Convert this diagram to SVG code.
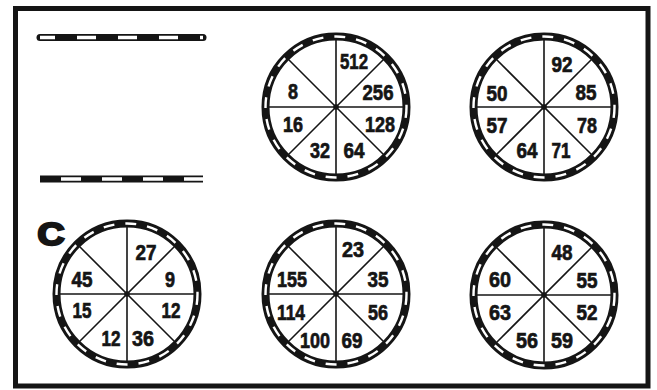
<svg xmlns="http://www.w3.org/2000/svg" xmlns:xlink="http://www.w3.org/1999/xlink" width="657" height="390" viewBox="0 0 657 390">
<style>
.n{font-family:"Liberation Sans",Arial,sans-serif;font-weight:bold;font-size:22.5px;fill:#151515;stroke:#151515;stroke-width:0.7;text-anchor:middle}
.sp{stroke:#151515;stroke-width:1.6;fill:none}
</style>
<defs>
<g id="wheel">
<circle r="70.5" fill="#fff" stroke="#151515" stroke-width="8"/>
<circle r="70.5" fill="none" stroke="#fff" stroke-width="2.4" stroke-dasharray="11 11"/>
<line class="sp" x1="0" y1="-67" x2="0" y2="67"/>
<line class="sp" x1="-67" y1="0" x2="67" y2="0"/>
<line class="sp" x1="-47.5" y1="-47.5" x2="47.5" y2="47.5"/>
<line class="sp" x1="-47.5" y1="47.5" x2="47.5" y2="-47.5"/>
<circle r="2.8" fill="#151515"/>
</g>
</defs>
<rect width="657" height="390" fill="#fff"/>
<rect x="15.5" y="8.5" width="632.5" height="377.5" fill="none" stroke="#151515" stroke-width="5"/>
<g id="bar-top">
<line x1="40" y1="37.5" x2="203" y2="37.5" stroke="#151515" stroke-width="7" stroke-linecap="round"/>
<line x1="40" y1="37.5" x2="203" y2="37.5" stroke="#fff" stroke-width="3.4" stroke-dasharray="19 22" stroke-dashoffset="4"/>
</g>
<g id="bar-bottom">
<line x1="40" y1="179" x2="203" y2="179" stroke="#151515" stroke-width="7"/>
<line x1="40" y1="179" x2="203" y2="179" stroke="#fff" stroke-width="3.4" stroke-dasharray="20 21" stroke-dashoffset="20"/>
</g>
<g id="wheel1">
<use xlink:href="#wheel" href="#wheel" x="336" y="107"/>
<text class="n" x="354" y="69" textLength="28" lengthAdjust="spacingAndGlyphs">512</text>
<text class="n" x="378" y="100" textLength="31" lengthAdjust="spacingAndGlyphs">256</text>
<text class="n" x="293" y="99" textLength="10" lengthAdjust="spacingAndGlyphs">8</text>
<text class="n" x="293" y="132" textLength="20" lengthAdjust="spacingAndGlyphs">16</text>
<text class="n" x="380" y="132" textLength="30" lengthAdjust="spacingAndGlyphs">128</text>
<text class="n" x="320" y="158" textLength="20" lengthAdjust="spacingAndGlyphs">32</text>
<text class="n" x="354" y="158" textLength="21" lengthAdjust="spacingAndGlyphs">64</text>
</g>
<g id="wheel2">
<use xlink:href="#wheel" href="#wheel" x="544" y="107"/>
<text class="n" x="562" y="72" textLength="21" lengthAdjust="spacingAndGlyphs">92</text>
<text class="n" x="586" y="100" textLength="21" lengthAdjust="spacingAndGlyphs">85</text>
<text class="n" x="497" y="101" textLength="21" lengthAdjust="spacingAndGlyphs">50</text>
<text class="n" x="497" y="133" textLength="21" lengthAdjust="spacingAndGlyphs">57</text>
<text class="n" x="587" y="133" textLength="20" lengthAdjust="spacingAndGlyphs">78</text>
<text class="n" x="527" y="158" textLength="21" lengthAdjust="spacingAndGlyphs">64</text>
<text class="n" x="561" y="158" textLength="19" lengthAdjust="spacingAndGlyphs">71</text>
</g>
<g id="label-c">
<text x="51" y="245" font-family="Liberation Sans,Arial,sans-serif" font-weight="bold" font-size="32" fill="#151515" stroke="#151515" stroke-width="2.4" text-anchor="middle" textLength="27" lengthAdjust="spacingAndGlyphs">C</text>
</g>
<g id="wheel3">
<use xlink:href="#wheel" href="#wheel" x="127" y="294"/>
<text class="n" x="146" y="260" textLength="21" lengthAdjust="spacingAndGlyphs">27</text>
<text class="n" x="170" y="287" textLength="10" lengthAdjust="spacingAndGlyphs">9</text>
<text class="n" x="82" y="287" textLength="21" lengthAdjust="spacingAndGlyphs">45</text>
<text class="n" x="82" y="318" textLength="19" lengthAdjust="spacingAndGlyphs">15</text>
<text class="n" x="171" y="318" textLength="19" lengthAdjust="spacingAndGlyphs">12</text>
<text class="n" x="111" y="346" textLength="19" lengthAdjust="spacingAndGlyphs">12</text>
<text class="n" x="143" y="346" textLength="22" lengthAdjust="spacingAndGlyphs">36</text>
</g>
<g id="wheel4">
<use xlink:href="#wheel" href="#wheel" x="336" y="294"/>
<text class="n" x="353" y="257" textLength="22" lengthAdjust="spacingAndGlyphs">23</text>
<text class="n" x="378" y="287" textLength="21" lengthAdjust="spacingAndGlyphs">35</text>
<text class="n" x="292" y="287" textLength="30" lengthAdjust="spacingAndGlyphs">155</text>
<text class="n" x="291" y="320" textLength="28" lengthAdjust="spacingAndGlyphs">114</text>
<text class="n" x="378" y="320" textLength="20" lengthAdjust="spacingAndGlyphs">56</text>
<text class="n" x="315" y="348" textLength="30" lengthAdjust="spacingAndGlyphs">100</text>
<text class="n" x="352" y="348" textLength="21" lengthAdjust="spacingAndGlyphs">69</text>
</g>
<g id="wheel5">
<use xlink:href="#wheel" href="#wheel" x="544" y="295"/>
<text class="n" x="562" y="260" textLength="21" lengthAdjust="spacingAndGlyphs">48</text>
<text class="n" x="587" y="288" textLength="21" lengthAdjust="spacingAndGlyphs">55</text>
<text class="n" x="500" y="287" textLength="22" lengthAdjust="spacingAndGlyphs">60</text>
<text class="n" x="500" y="320" textLength="22" lengthAdjust="spacingAndGlyphs">63</text>
<text class="n" x="587" y="320" textLength="21" lengthAdjust="spacingAndGlyphs">52</text>
<text class="n" x="527" y="348" textLength="22" lengthAdjust="spacingAndGlyphs">56</text>
<text class="n" x="562" y="348" textLength="22" lengthAdjust="spacingAndGlyphs">59</text>
</g>
</svg>
